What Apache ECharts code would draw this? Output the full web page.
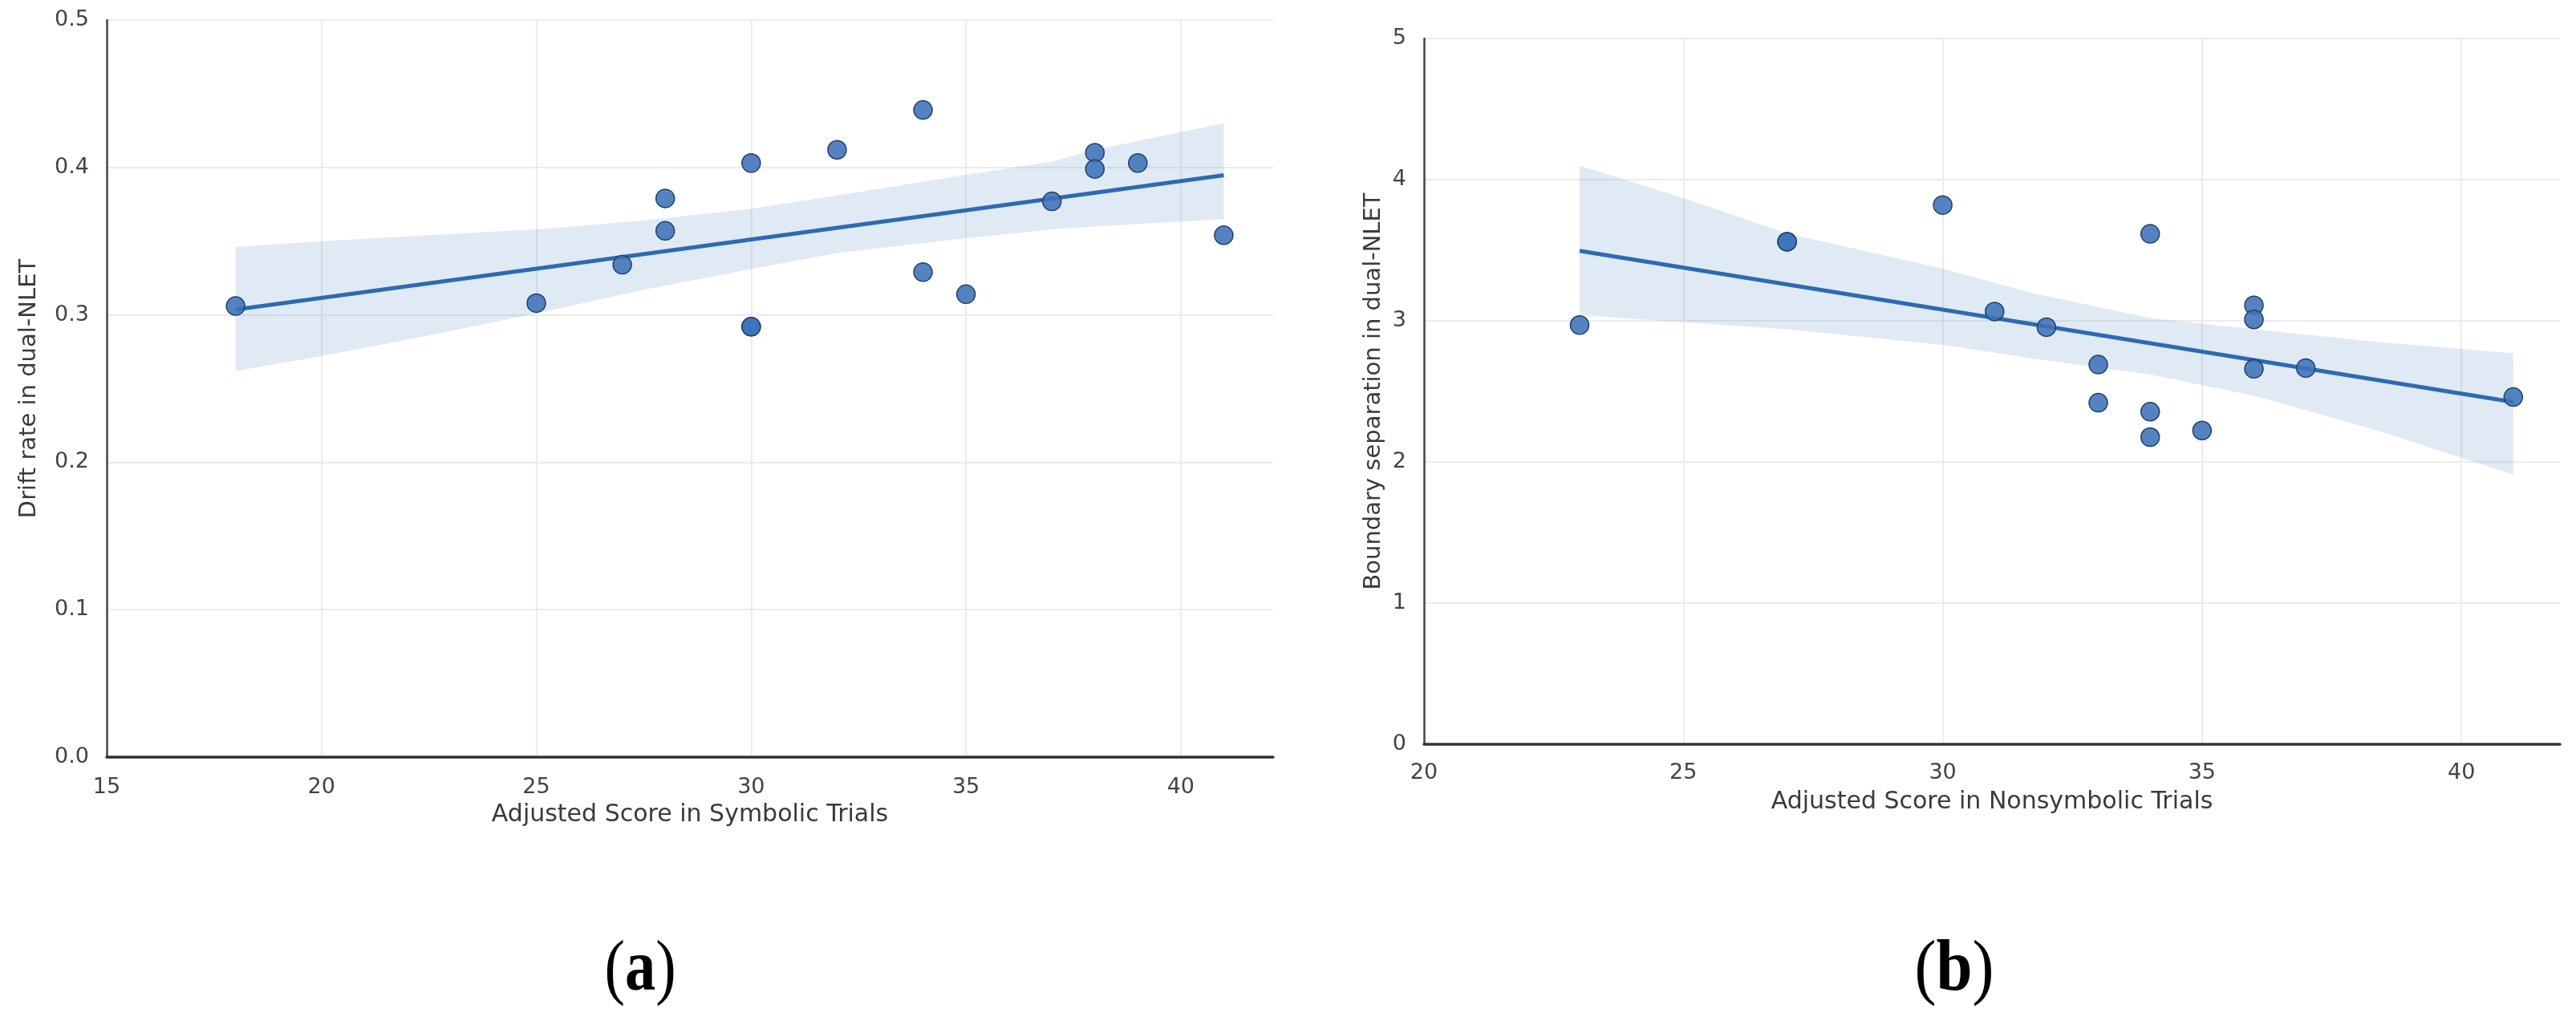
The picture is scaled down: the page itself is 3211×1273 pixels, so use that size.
<!DOCTYPE html>
<html>
<head>
<meta charset="utf-8">
<script src="https://cdn.jsdelivr.net/npm/echarts@6/dist/echarts.min.js"></script>
<style>
html,body{margin:0;padding:0;background:#fff;}
#c{width:3211px;height:1273px;}
</style>
</head>
<body>
<div id="c"></div>
<script>
// ---- Panel (a): Symbolic trials vs drift rate ----
const leftX = [18, 25, 27, 28, 28, 30, 30, 30, 32, 34, 34, 35, 37, 38, 38, 39, 41];
const leftY = [0.306, 0.308, 0.334, 0.379, 0.357, 0.403, 0.292, 0.292, 0.412, 0.439, 0.329, 0.314, 0.377, 0.410, 0.399, 0.403, 0.354];
const leftLineX = [18, 41];
const leftLineY = [0.3036, 0.3947];
const leftBandX  = [18, 20, 22.5, 25, 27.5, 30, 32, 35, 37, 38, 41];
const leftBandLo = [0.262, 0.272, 0.286, 0.301, 0.317, 0.331, 0.342, 0.352, 0.358, 0.360, 0.365];
const leftBandHi = [0.346, 0.350, 0.354, 0.358, 0.364, 0.372, 0.381, 0.395, 0.404, 0.412, 0.430];
const leftXTicks = [15, 20, 25, 30, 35, 40];
const leftYTicks = [0.0, 0.1, 0.2, 0.3, 0.4, 0.5];

// ---- Panel (b): Nonsymbolic trials vs boundary separation ----
const rightX = [23, 27, 27, 30, 31, 32, 33, 33, 34, 34, 34, 35, 36, 36, 36, 37, 41];
const rightY = [2.97, 3.56, 3.56, 3.82, 3.066, 2.955, 2.69, 2.42, 3.616, 2.356, 2.176, 2.223, 3.11, 3.01, 2.66, 2.665, 2.46];
const rightLineX = [23, 41];
const rightLineY = [3.496, 2.425];
const rightBandX  = [23, 25, 27, 30, 31.8, 34, 36, 38.4, 41];
const rightBandLo = [3.04, 2.99, 2.94, 2.83, 2.73, 2.62, 2.47, 2.22, 1.91];
const rightBandHi = [4.10, 3.87, 3.62, 3.37, 3.19, 3.02, 2.94, 2.85, 2.77];
const rightXTicks = [20, 25, 30, 35, 40];
const rightYTicks = [0, 1, 2, 3, 4, 5];

const xTitles = ['Adjusted Score in Symbolic Trials', 'Adjusted Score in Nonsymbolic Trials'];
const yTitles = ['Drift rate in dual-NLET', 'Boundary separation in dual-NLET'];
const panelLabels = ['a', 'b'];

const FONT = "'DejaVu Sans', sans-serif";
const PT_COLOR = 'rgba(62,114,184,0.88)';
const LINE_COLOR = '#2c6bb3';
const BAND_COLOR = 'rgba(60,125,195,0.16)';
const GRID_COLOR = '#ececec';

function zip(a, b) { return a.map((v, i) => [v, b[i]]); }

function bandSeries(idx, bx, lo, hi) {
  return {
    type: 'custom',
    xAxisIndex: idx, yAxisIndex: idx,
    z: 1,
    data: bx.map((x, i) => [x, lo[i], hi[i]]),
    encode: { x: 0, y: [1, 2] },
    silent: true,
    renderItem: function (params, api) {
      if (params.dataIndex !== 0) return null;
      const pts = [];
      for (let i = 0; i < bx.length; i++) pts.push(api.coord([bx[i], hi[i]]));
      for (let i = bx.length - 1; i >= 0; i--) pts.push(api.coord([bx[i], lo[i]]));
      return { type: 'polygon', shape: { points: pts }, style: { fill: BAND_COLOR } };
    }
  };
}

function xAxis(idx, min, max, ticks, name, margin) {
  return {
    type: 'value', gridIndex: idx, min: min, max: max, interval: 5,
    name: name, nameLocation: 'middle', nameGap: 57,
    nameTextStyle: { fontFamily: FONT, fontSize: 30, color: '#3a3a3a' },
    axisLine: { show: true, onZero: false, lineStyle: { color: '#333', width: 3.5 } },
    axisTick: { show: false },
    axisLabel: {
      fontFamily: FONT, fontSize: 27, color: '#444', margin: margin,
      showMaxLabel: false,
      formatter: v => (ticks.indexOf(v) >= 0 ? String(v) : '')
    },
    splitLine: { show: true, showMinLine: false, showMaxLine: false, lineStyle: { color: GRID_COLOR, width: 2 } }
  };
}

function yAxis(idx, max, interval, ticks, name, gap, dec) {
  return {
    type: 'value', gridIndex: idx, min: 0, max: max, interval: interval,
    name: name, nameLocation: 'middle', nameGap: gap, nameRotate: 90,
    nameTextStyle: { fontFamily: FONT, fontSize: 29, color: '#3a3a3a' },
    axisLine: { show: true, onZero: false, lineStyle: { color: '#444', width: 2.5 } },
    axisTick: { show: false },
    axisLabel: {
      fontFamily: FONT, fontSize: 27, color: '#444', margin: 22,
      formatter: v => v.toFixed(dec)
    },
    splitLine: { show: true, showMinLine: false, lineStyle: { color: GRID_COLOR, width: 2 } }
  };
}

function scatter(idx, xs, ys) {
  return {
    type: 'scatter', xAxisIndex: idx, yAxisIndex: idx, z: 4,
    symbol: 'circle', symbolSize: 23,
    itemStyle: { color: PT_COLOR, borderColor: '#1f3f66', borderWidth: 1.5, opacity: 1 },
    data: zip(xs, ys)
  };
}

function regLine(idx, xs, ys) {
  return {
    type: 'line', xAxisIndex: idx, yAxisIndex: idx, z: 3,
    showSymbol: false, symbol: 'none',
    lineStyle: { color: LINE_COLOR, width: 5 },
    data: zip(xs, ys)
  };
}

function panelLabel(cx, letter, sx) {
  return {
    type: 'text', x: cx, y: 1211, scaleX: sx,
    style: {
      text: '({l|' + letter + '})',
      fontFamily: "'Liberation Serif', 'Times New Roman', serif",
      fontSize: 90, fill: '#000',
      align: 'center', verticalAlign: 'middle',
      textAlign: 'center', textVerticalAlign: 'middle',
      rich: { l: { fontFamily: "'Liberation Serif', 'Times New Roman', serif", fontSize: 90, fontWeight: 'bold', fill: '#000' } }
    }
  };
}

const chart = echarts.init(document.getElementById('c'), null, { renderer: 'canvas' });
chart.setOption({
  animation: false,
  backgroundColor: '#ffffff',
  grid: [
    { left: 133, top: 25, width: 1454, height: 919, containLabel: false },
    { left: 1775, top: 48, width: 1416, height: 880, containLabel: false }
  ],
  xAxis: [
    xAxis(0, 15, 42.15, leftXTicks, xTitles[0], 24),
    xAxis(1, 20, 41.9, rightXTicks, xTitles[1], 22)
  ],
  yAxis: [
    yAxis(0, 0.5, 0.1, leftYTicks, yTitles[0], 82, 1),
    yAxis(1, 5, 1, rightYTicks, yTitles[1], 48, 0)
  ],
  series: [
    bandSeries(0, leftBandX, leftBandLo, leftBandHi),
    regLine(0, leftLineX, leftLineY),
    scatter(0, leftX, leftY),
    bandSeries(1, rightBandX, rightBandLo, rightBandHi),
    regLine(1, rightLineX, rightLineY),
    scatter(1, rightX, rightY)
  ],
  graphic: [
    panelLabel(798, panelLabels[0], 0.85),
    panelLabel(2436, panelLabels[1], 0.9)
  ]
});
</script>
</body>
</html>
